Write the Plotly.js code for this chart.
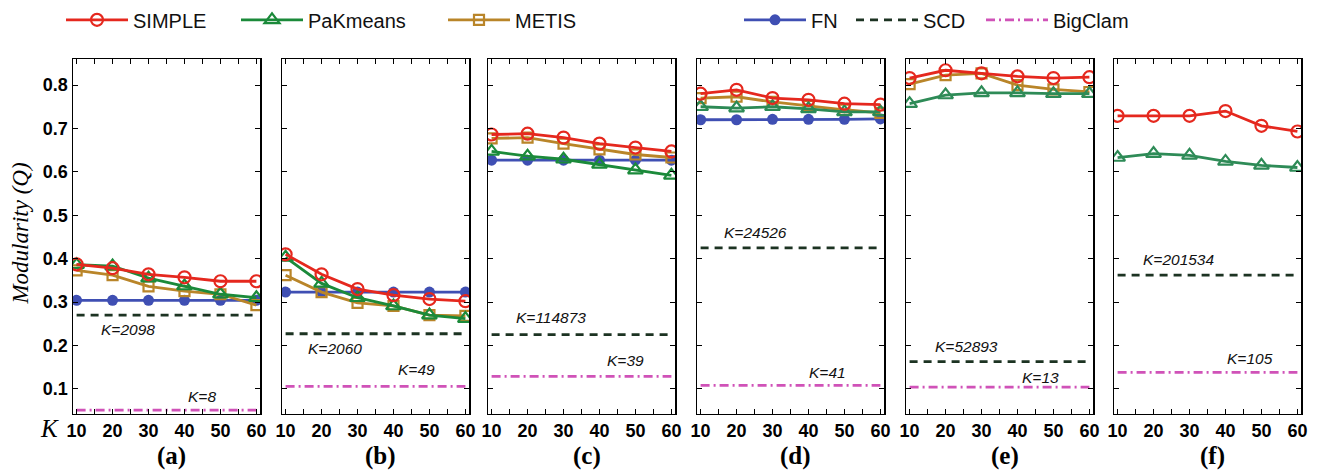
<!DOCTYPE html>
<html>
<head>
<meta charset="utf-8">
<script src="https://cdn.plot.ly/plotly-3.0.1.min.js"></script>
<style>html,body{margin:0;padding:0;background:#fff;}#chart{width:1319px;height:473px;}</style>
</head>
<body>
<div id="chart"></div>
<script>
// ---------------- data ----------------
const K = [10, 20, 30, 40, 50, 60];
const panelNames = ['(a)', '(b)', '(c)', '(d)', '(e)', '(f)'];
const seriesNames = ['SIMPLE', 'PaKmeans', 'METIS', 'FN', 'SCD', 'BigClam'];

const simpleQ = [
  [0.387, 0.378, 0.364, 0.357, 0.348, 0.348],
  [0.410, 0.364, 0.330, 0.316, 0.307, 0.302],
  [0.686, 0.688, 0.679, 0.665, 0.656, 0.647],
  [0.780, 0.789, 0.770, 0.766, 0.757, 0.755],
  [0.816, 0.834, 0.827, 0.820, 0.816, 0.818],
  [0.729, 0.729, 0.729, 0.740, 0.706, 0.693]
];
const pakmeansQ = [
  [0.386, 0.383, 0.355, 0.337, 0.318, 0.310],
  [0.403, 0.343, 0.310, 0.291, 0.270, 0.262],
  [0.647, 0.636, 0.629, 0.617, 0.604, 0.592],
  [0.750, 0.747, 0.750, 0.745, 0.738, 0.738],
  [0.757, 0.777, 0.782, 0.782, 0.780, 0.780],
  [0.633, 0.642, 0.638, 0.624, 0.615, 0.610]
];
const metisQ = [
  [0.373, 0.362, 0.336, 0.325, 0.318, 0.293],
  [0.362, 0.323, 0.298, 0.291, 0.270, 0.268],
  [0.677, 0.679, 0.665, 0.652, 0.640, 0.633],
  [0.770, 0.773, 0.761, 0.752, 0.743, 0.736],
  [0.802, 0.823, 0.827, 0.800, 0.790, 0.784],
  null
];
const fnQ = [
  [0.304, 0.304, 0.304, 0.304, 0.304, 0.304],
  [0.323, 0.323, 0.323, 0.323, 0.323, 0.323],
  [0.627, 0.627, 0.627, 0.627, 0.627, 0.627],
  [0.720, 0.720, 0.721, 0.721, 0.721, 0.722],
  null,
  null
];
const scdQ = [0.270, 0.227, 0.225, 0.425, 0.163, 0.362];
const bigclamQ = [0.051, 0.106, 0.129, 0.108, 0.104, 0.138];
const scdLabels = ['K=2098', 'K=2060', 'K=114873', 'K=24526', 'K=52893', 'K=201534'];
const bigclamLabels = ['K=8', 'K=49', 'K=39', 'K=41', 'K=13', 'K=105'];
const yTicks = [0.1, 0.2, 0.3, 0.4, 0.5, 0.6, 0.7, 0.8];
const xTicks = [10, 15, 20, 25, 30, 35, 40, 45, 50, 55, 60];

// ---------------- style ----------------
const W = 1319, H = 473;
const panelLeft = [73, 282, 488, 697, 906, 1114];
const panelW = 187;
const plotTop = 55, plotBottom = 413;
const colors = {
  SIMPLE: '#e5281e',
  PaKmeans: ['#1b8a3a', '#1b8a3a', '#1b8a3a', '#2c8a55', '#2e8b57', '#2e8b57'],
  METIS: '#b98529',
  FN: '#3f4fb3',
  SCD: '#1c3322',
  BigClam: '#d052b8'
};
const scdLabelPos = [[24.3, -14], [23.7, -15], [26.5, 17], [25.4, 15], [25.7, 15], [26.8, 16]];
const bigLabelPos = [[44.9, 14], [46.5, 17], [47.1, 16], [45.4, 13], [46.5, 10], [46.8, 14]];

const traces = [];
const layout = {
  width: W, height: H,
  margin: {l: 0, r: 0, t: 0, b: 0},
  paper_bgcolor: '#fff', plot_bgcolor: '#fff',
  showlegend: true,
  annotations: [],
  font: {family: 'Liberation Sans', color: '#000'}
};

const legendX = [67, 242, 449, 745, 857, 987];
seriesNames.forEach((s, i) => {
  const key = i === 0 ? 'legend' : 'legend' + (i + 1);
  layout[key] = {
    x: (legendX[i] - 6) / W, xanchor: 'left',
    y: 1 - 15 / H, yanchor: 'middle',
    orientation: 'h', bgcolor: 'rgba(0,0,0,0)',
    itemwidth: 62,
    font: {family: 'Liberation Sans', size: 20, color: '#111'}
  };
});

function legendRef(i) { return i === 0 ? 'legend' : 'legend' + (i + 1); }

for (let p = 0; p < 6; p++) {
  const sfx = p === 0 ? '' : String(p + 1);
  const xa = 'x' + sfx, ya = 'y' + sfx;
  const first = p === 0;
  const pk = colors.PaKmeans[p];
  const xRange = [9, 61];
  const ends = [K[0], K[K.length - 1]];

  traces.push({
    x: ends, y: [scdQ[p], scdQ[p]], xaxis: xa, yaxis: ya, mode: 'lines', name: 'SCD',
    line: {color: colors.SCD, width: 2.8, dash: '8px,6px'},
    showlegend: first, legend: legendRef(4), hoverinfo: 'skip'
  });
  traces.push({
    x: ends, y: [bigclamQ[p], bigclamQ[p]], xaxis: xa, yaxis: ya, mode: 'lines', name: 'BigClam',
    line: {color: colors.BigClam, width: 2.8, dash: '9px,4px,2px,4px'},
    showlegend: first, legend: legendRef(5), hoverinfo: 'skip'
  });
  if (fnQ[p]) traces.push({
    x: K, y: fnQ[p], xaxis: xa, yaxis: ya, mode: 'lines+markers', name: 'FN',
    line: {color: colors.FN, width: 2.8},
    marker: {symbol: 'circle', size: 11, color: colors.FN},
    showlegend: first, legend: legendRef(3)
  });
  if (metisQ[p]) traces.push({
    x: K, y: metisQ[p], xaxis: xa, yaxis: ya, mode: 'lines+markers', name: 'METIS',
    line: {color: colors.METIS, width: 2.8},
    marker: {symbol: 'square-open', size: 10, color: colors.METIS, line: {width: 2.2, color: colors.METIS}},
    showlegend: first, legend: legendRef(2)
  });
  traces.push({
    x: K, y: pakmeansQ[p], xaxis: xa, yaxis: ya, mode: 'lines+markers', name: 'PaKmeans',
    line: {color: pk, width: 2.8},
    marker: {symbol: 'triangle-up-open', size: 13, color: pk, line: {width: 2.2, color: pk}},
    showlegend: first, legend: legendRef(1)
  });
  traces.push({
    x: K, y: simpleQ[p], xaxis: xa, yaxis: ya, mode: 'lines+markers', name: 'SIMPLE',
    line: {color: colors.SIMPLE, width: 2.8},
    marker: {symbol: 'circle-open', size: 12, color: colors.SIMPLE, line: {width: 2.2, color: colors.SIMPLE}},
    showlegend: first, legend: legendRef(0)
  });

  layout['xaxis' + sfx] = {
    domain: [panelLeft[p] / W, (panelLeft[p] + panelW) / W],
    anchor: ya, range: xRange,
    tickmode: 'array', tickvals: xTicks,
    ticktext: xTicks.map(v => v % 10 === 0 ? String(v) : ''),
    ticks: 'inside', ticklen: 5, tickwidth: 1, tickcolor: '#000',
    showline: true, linecolor: '#000', linewidth: 1.5, mirror: 'ticks',
    showgrid: false, zeroline: false,
    tickfont: {family: 'Liberation Sans', size: 18, weight: 'bold', color: '#000'}
  };
  layout['yaxis' + sfx] = {
    domain: [1 - plotBottom / H, 1 - plotTop / H],
    anchor: xa, range: [0.043, 0.859],
    tickmode: 'array', tickvals: yTicks,
    ticktext: yTicks.map(v => v.toFixed(1)),
    showticklabels: first,
    ticks: 'inside', ticklen: 5, tickwidth: 1, tickcolor: '#000',
    showline: true, linecolor: '#000', linewidth: 1.5, mirror: 'ticks',
    showgrid: false, zeroline: false,
    tickfont: {family: 'Liberation Sans', size: 18, weight: 'bold', color: '#000'}
  };

  layout.annotations.push({
    xref: xa, yref: ya, x: scdLabelPos[p][0], y: scdQ[p], yshift: scdLabelPos[p][1],
    xanchor: 'center', yanchor: 'middle',
    text: '<i>' + scdLabels[p] + '</i>', showarrow: false,
    font: {family: 'Liberation Sans', size: 15.5, color: '#111'}
  });
  layout.annotations.push({
    xref: xa, yref: ya, x: bigLabelPos[p][0], y: bigclamQ[p], yshift: bigLabelPos[p][1],
    xanchor: 'center', yanchor: 'middle',
    text: '<i>' + bigclamLabels[p] + '</i>', showarrow: false,
    font: {family: 'Liberation Sans', size: 15.5, color: '#111'}
  });
  layout.annotations.push({
    xref: 'paper', yref: 'paper',
    x: (panelLeft[p] + panelW / 2 + 5) / W, y: 1 - 456 / H,
    xanchor: 'center', yanchor: 'middle',
    text: '<b>' + panelNames[p] + '</b>', showarrow: false,
    font: {family: 'Liberation Serif', size: 25, color: '#000'}
  });
}

layout.annotations.push({
  xref: 'paper', yref: 'paper', x: 21 / W, y: 1 - 231 / H,
  xanchor: 'center', yanchor: 'middle',
  text: '<i>Modularity (Q)</i>', textangle: -90, showarrow: false,
  font: {family: 'Liberation Serif', size: 23, color: '#000'}
});
layout.annotations.push({
  xref: 'paper', yref: 'paper', x: 49 / W, y: 1 - 428 / H,
  xanchor: 'center', yanchor: 'middle',
  text: '<i>K</i>', showarrow: false,
  font: {family: 'Liberation Serif', size: 25, color: '#000'}
});

Plotly.newPlot('chart', traces, layout, {staticPlot: true, displayModeBar: false});
</script>
</body>
</html>
